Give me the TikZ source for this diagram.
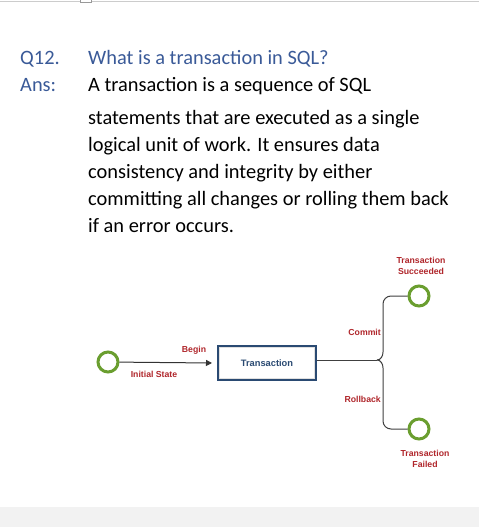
\documentclass[tikz,border=0pt]{standalone}
\usepackage{fontspec}
\setmainfont{Carlito}
\newfontfamily\diafont{Liberation Sans}
\usetikzlibrary{arrows.meta}
\definecolor{qblue}{HTML}{3A5A98}
\definecolor{lblred}{HTML}{B0262B}
\definecolor{stgreen}{HTML}{6A9E2F}
\definecolor{boxblue}{HTML}{2A4A72}
\definecolor{linegray}{HTML}{404040}
\tikzset{
  qtext/.style={anchor=base west, inner sep=0pt, font=\fontsize{20.4}{24}\selectfont},
  lbl/.style={inner sep=0pt, text=lblred, font=\diafont\bfseries\fontsize{8.7}{11}\selectfont, align=center},
  state/.style={circle, draw=stgreen, line width=3pt, minimum size=20pt, inner sep=0pt, fill=white},
  tbox/.style={draw=boxblue, line width=2.6pt, fill=white, minimum width=97pt, minimum height=33pt, inner sep=0pt, text=boxblue, font=\diafont\bfseries\fontsize{9.3}{11}\selectfont},
  conn/.style={draw=linegray, line width=1pt},
}
\begin{document}
\begin{tikzpicture}[x=1pt,y=-1pt]
\useasboundingbox (0,0) rectangle (479,527);
% page background
\fill[white] (0,0) rectangle (479,527);
\fill[black!5] (0,507) rectangle (479,527);
\draw[black!20, line width=1pt] (0,1.5) -- (479,1.5);
\draw[black!40, line width=0.6pt, fill=white] (80,-1) rectangle (91,2.5);
% text
\node[qtext, text=qblue] (q) at (20,64) {Q12.};
\node[qtext, text=qblue] (qt) at (88,64) {What is a transaction in SQL?};
\node[qtext, text=qblue] (ans) at (20,91) {Ans:};
\node[qtext] (l1) at (88,91) {A transaction is a sequence of SQL};
\node[qtext] (l2) at (88,124) {statements that are executed as a single};
\node[qtext] (l3) at (88,151) {logical unit of work. It ensures data};
\node[qtext] (l4) at (88,178) {consistency and integrity by either};
\node[qtext] (l5) at (88,205) {committing all changes or rolling them back};
\node[qtext] (l6) at (88,232) {if an error occurs.};
% diagram
\node[state] (init) at (108,362) {};
\node[tbox] (tr) at (267,363) {Transaction};
\draw[black!12, line width=1.2pt] ([shift={(2.6pt,-2.6pt)}]tr.north west) rectangle ([shift={(-2.6pt,2.6pt)}]tr.south east);
\node[state] (succ) at (419,296) {};
\node[state] (fail) at (419,429) {};
\coordinate (br) at (377,360);
\draw[conn, -{Triangle[length=6pt,width=6pt]}, black!80] (init) -- (tr.west -| 212,0);
\draw[conn] (tr.east |- br) -- (br);
\draw[conn] (br) to[out=0,in=-90] (383,352) -- (383,304) to[out=90,in=180] (391,296) -- (succ.west);
\draw[conn] (br) to[out=0,in=90] (383,368) -- (383,421) to[out=-90,in=180] (391,429) -- (fail.west);
\node[lbl] (begin) at (194,350) {Begin};
\node[lbl] (istate) at (154,374) {Initial State};
\node[lbl, anchor=east] (commit) at (381,332) {Commit};
\node[lbl, anchor=east] (rollback) at (381,399) {Rollback};
\node[lbl] (succl) at (421,266) {Transaction\\Succeeded};
\node[lbl] (faill) at (425,459) {Transaction\\Failed};
\end{tikzpicture}
\end{document}
